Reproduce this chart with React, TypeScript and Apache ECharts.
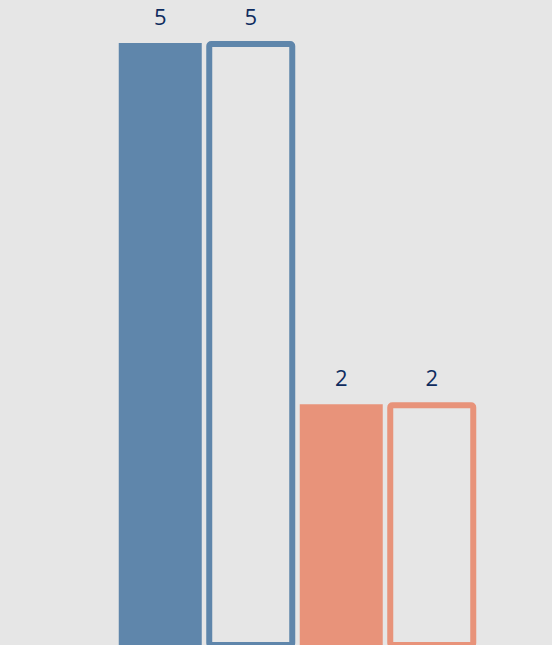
import React, { useEffect, useRef } from "react";
import * as echarts from "echarts";

const categories = ["Group A filled", "Group A outline", "Group B filled", "Group B outline"];
const values = [5, 5, 2, 2];
const styles = ["filled", "outline", "filled", "outline"];
const colors = ["#5f86ab", "#5f86ab", "#e8937a", "#e8937a"];

const BG = "#e6e6e6";
const LABEL_COLOR = "#0e2c5f";
const BAR_W = 83;

export default function App() {
  const ref = useRef<HTMLDivElement>(null);
  useEffect(() => {
    if (!ref.current) return;
    const chart = echarts.init(ref.current, undefined, { renderer: "svg" });
    const filledData = values.map((v, i) =>
      styles[i] === "filled" ? { value: v, itemStyle: { color: colors[i] } } : "-"
    );
    const outlineData = values
      .map((v, i) => ({ i, v }))
      .filter((d) => styles[d.i] === "outline")
      .map((d) => [d.i, d.v]);
    chart.setOption({
      animation: false,
      backgroundColor: BG,
      grid: { left: 115, right: 75, top: 43, height: 603 },
      xAxis: { type: "category", data: categories, show: false },
      yAxis: { type: "value", min: 0, max: 5, show: false },
      series: [
        {
          type: "bar",
          data: filledData,
          barWidth: BAR_W,
          label: {
            show: true,
            position: "top",
            distance: 16,
            fontSize: 22,
            fontFamily: "Open Sans",
            color: LABEL_COLOR,
          },
        },
        {
          type: "custom",
          data: outlineData,
          encode: { x: 0, y: 1 },
          renderItem: (params: any, api: any) => {
            const idx = api.value(0);
            const val = api.value(1);
            const top = api.coord([idx, val]);
            const base = api.coord([idx, 0]);
            const color = colors[idx];
            return {
              type: "group",
              children: [
                {
                  type: "rect",
                  shape: {
                    x: top[0] - BAR_W / 2,
                    y: top[1] + 1,
                    width: BAR_W,
                    height: base[1] - top[1] - 1,
                    r: 2,
                  },
                  style: { fill: BG, stroke: color, lineWidth: 6, lineJoin: "round" },
                },
                {
                  type: "text",
                  x: top[0],
                  y: top[1] - 16,
                  style: {
                    text: String(val),
                    fontSize: 22,
                    fontFamily: "Open Sans",
                    fill: LABEL_COLOR,
                    align: "center",
                    verticalAlign: "bottom",
                  },
                },
              ],
            };
          },
        },
      ],
    });
    return () => chart.dispose();
  }, []);
  return (
    <div
      ref={ref}
      style={{ position: "fixed", left: 0, top: 0, width: 552, height: 645 }}
    />
  );
}
